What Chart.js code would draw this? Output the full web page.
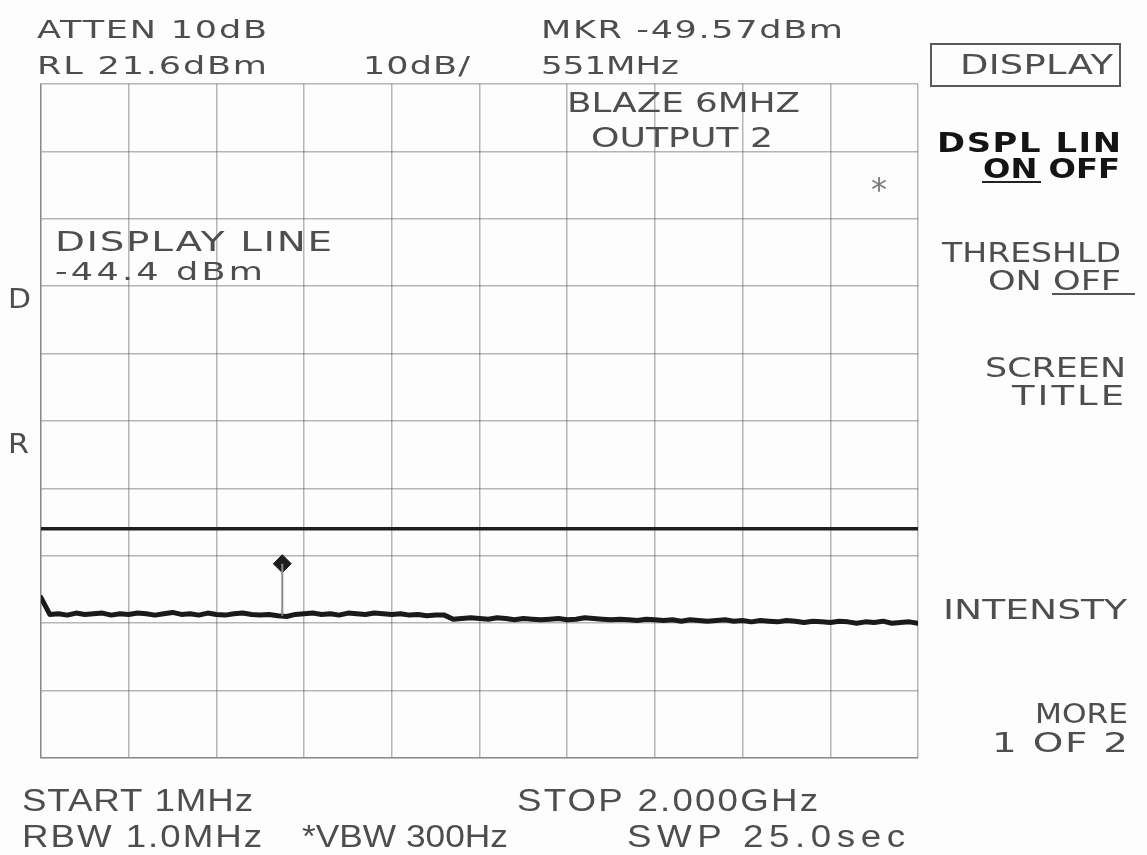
<!DOCTYPE html>
<html>
<head>
<meta charset="utf-8">
<title>Spectrum analyzer display</title>
<script src="https://cdn.jsdelivr.net/npm/chart.js@4.4.1/dist/chart.umd.min.js"></script>
<style>
  html, body { margin: 0; padding: 0; background: #fdfdfd; }
  #wrap { width: 1147px; height: 855px; position: relative; }
  canvas { display: block; }
</style>
</head>
<body>
<div id="wrap"><canvas id="sa" width="1147" height="855"></canvas></div>
<script>
// Sweep settings
const startMHz = 1;
const stopMHz = 2000;
const refLevelDbm = 21.6;
const dbPerDiv = 10;
const divisions = 10;

// Display line and marker
const displayLineDbm = -44.4;
const markerMHz = 551;
const markerDbm = -49.57;
const traceAtMarkerDbm = -57.3;

// Trace: 101 points evenly spread across the sweep (dBm)
const traceDbm = [
  -54.6, -57.1, -57.0, -57.2, -56.9, -57.1, -57.0, -56.9, -57.2, -57.0,
  -57.1, -56.9, -57.0, -57.2, -57.0, -56.8, -57.1, -57.0, -57.2, -56.9,
  -57.1, -57.2, -57.0, -56.9, -57.1, -57.2, -57.1, -57.3, -57.4, -57.1,
  -57.0, -56.9, -57.1, -57.0, -57.2, -56.9, -57.0, -57.1, -56.9, -57.0,
  -57.1, -57.0, -57.2, -57.1, -57.3, -57.2, -57.2, -57.8, -57.7, -57.6,
  -57.7, -57.8, -57.6, -57.7, -57.9, -57.7, -57.8, -57.9, -57.8, -57.7,
  -57.9, -57.8, -57.6, -57.7, -57.8, -57.9, -57.8, -57.9, -58.0, -57.8,
  -57.9, -58.0, -57.9, -58.1, -57.9, -58.0, -58.1, -58.0, -57.9, -58.1,
  -58.0, -58.2, -58.0, -58.1, -58.2, -58.0, -58.1, -58.3, -58.1, -58.2,
  -58.3, -58.1, -58.2, -58.4, -58.2, -58.3, -58.1, -58.4, -58.3, -58.2, -58.4
];

// Screen annotations: [text, left, right, baseline, capHeight, style]
const annotations = [
  ['ATTEN 10dB', 37, 267, 38, 18, 'n'],
  ['RL 21.6dBm', 37, 267, 74, 18, 'n'],
  ['10dB/', 363, 470, 74, 18, 'n'],
  ['MKR -49.57dBm', 541, 843, 38, 18, 'n'],
  ['551MHz', 541, 679, 74, 18, 'n'],
  ['BLAZE 6MHZ', 567, 800, 112, 20, 'n'],
  ['OUTPUT 2', 591, 773, 147, 20, 'n'],
  ['DISPLAY LINE', 55, 332, 251, 20, 'n'],
  ['-44.4 dBm', 55, 263, 280, 18, 'n'],
  ['D', 8, 31, 308, 19, 'n'],
  ['R', 8, 29, 453, 19, 'n'],
  ['DISPLAY', 960, 1113, 74, 19, 'n'],
  ['DSPL LIN', 937, 1121, 152, 19, 'b'],
  ['ON OFF', 983, 1120, 178, 19, 'b'],
  ['THRESHLD', 942, 1121, 262, 19, 'n'],
  ['ON OFF', 988, 1121, 290, 19, 'n'],
  ['SCREEN', 985, 1126, 377, 19, 'n'],
  ['TITLE', 1012, 1124, 405, 19, 'n'],
  ['INTENSTY', 943, 1127, 619, 20, 'n'],
  ['MORE', 1035, 1128, 723, 20, 'n'],
  ['1 OF 2', 992, 1128, 752, 20, 'n'],
  ['START 1MHz', 22, 253, 811, 22, 'c'],
  ['STOP 2.000GHz', 517, 818, 811, 22, 'c'],
  ['RBW 1.0MHz', 22, 262, 847, 22, 'c'],
  ['*VBW 300Hz', 302, 508, 847, 22, 'c'],
  ['SWP 25.0sec', 627, 905, 847, 22, 'c']
];

const traceMHz = traceDbm.map((_, i) => startMHz + i * (stopMHz - startMHz) / (traceDbm.length - 1));
const yMin = refLevelDbm - dbPerDiv * divisions;
const xTickValues = Array.from({length: divisions + 1}, (_, i) => startMHz + i * (stopMHz - startMHz) / divisions);
const yTickValues = Array.from({length: divisions + 1}, (_, i) => yMin + i * dbPerDiv);

const gridColor = 'rgba(80,80,80,0.42)';
const textColor = '#4e4e4e';

// Draws a string spread across [left, right] on a fixed baseline:
// glyphs widen up to maxStretch, the rest of the span becomes letter spacing.
function stretchText(ctx, str, left, right, baseline, cap, style) {
  let family = '"DejaVu Sans", sans-serif';
  let weight = 'normal';
  let color = textColor;
  let capRatio = 0.73;
  let maxStretch = 1.42;
  if (style === 'b') { weight = 'bold'; color = '#141414'; maxStretch = 1.3; }
  if (style === 'c') { family = '"Liberation Sans", sans-serif'; capRatio = 0.72; maxStretch = 1.2; }
  const size = cap / capRatio;
  const target = right - left;
  ctx.save();
  ctx.font = weight + ' ' + size.toFixed(1) + 'px ' + family;
  ctx.fillStyle = color;
  ctx.textBaseline = 'alphabetic';
  const w0 = ctx.measureText(str).width;
  let spacing = 0;
  if (target / w0 > maxStretch && 'letterSpacing' in ctx && str.length > 1) {
    spacing = (target / maxStretch - w0) / (str.length - 1);
    ctx.letterSpacing = spacing.toFixed(2) + 'px';
  }
  // trailing spacing is not part of the visible span
  const w = ctx.measureText(str).width - spacing;
  ctx.translate(left, baseline);
  ctx.scale(target / w, 1);
  ctx.fillText(str, 0, 0);
  ctx.restore();
}

const screenText = {
  id: 'screenText',
  afterDraw(chart) {
    const ctx = chart.ctx;
    annotations.forEach(a => stretchText(ctx, a[0], a[1], a[2], a[3], a[4], a[5]));
    ctx.save();
    // soft key title box
    ctx.strokeStyle = '#5a5a5a';
    ctx.lineWidth = 2;
    ctx.strokeRect(931, 44, 189, 42);
    // active selections underlined
    ctx.strokeStyle = '#222';
    ctx.lineWidth = 2;
    ctx.beginPath(); ctx.moveTo(982, 182); ctx.lineTo(1041, 182); ctx.stroke();
    ctx.strokeStyle = '#555';
    ctx.beginPath(); ctx.moveTo(1052, 294); ctx.lineTo(1135, 294); ctx.stroke();
    // asterisk flag
    ctx.fillStyle = '#7a7a7a';
    ctx.font = '32px "DejaVu Sans", sans-serif';
    ctx.textAlign = 'center';
    ctx.textBaseline = 'middle';
    ctx.fillText('*', 879, 192);
    ctx.restore();
  }
};

new Chart(document.getElementById('sa'), {
  type: 'line',
  data: {
    datasets: [
      {
        data: [{x: startMHz, y: displayLineDbm}, {x: stopMHz, y: displayLineDbm}],
        borderColor: '#1e1e1e', borderWidth: 3.5, pointRadius: 0
      },
      {
        data: [{x: markerMHz, y: markerDbm}, {x: markerMHz, y: traceAtMarkerDbm}],
        borderColor: '#8a8a8a', borderWidth: 2, pointRadius: 0
      },
      {
        data: traceMHz.map((f, i) => ({x: f, y: traceDbm[i]})),
        borderColor: '#1a1a1a', borderWidth: 5, pointRadius: 0, tension: 0,
        borderJoinStyle: 'round', borderCapStyle: 'round'
      },
      {
        data: [{x: markerMHz, y: markerDbm}],
        showLine: false, pointStyle: 'rectRot', pointRadius: 9,
        pointBackgroundColor: '#1e1e1e', pointBorderColor: '#1e1e1e'
      }
    ]
  },
  options: {
    responsive: false,
    devicePixelRatio: 1,
    animation: false,
    events: [],
    layout: { padding: { left: 41, top: 84, right: 229, bottom: 97 } },
    plugins: { legend: { display: false }, tooltip: { enabled: false } },
    scales: {
      x: {
        type: 'linear', min: startMHz, max: stopMHz,
        afterBuildTicks: s => { s.ticks = xTickValues.map(v => ({value: v})); },
        ticks: { display: false },
        grid: { color: gridColor, lineWidth: 1.5, drawTicks: false },
        border: { display: true, color: gridColor, width: 1.5 }
      },
      y: {
        type: 'linear', min: yMin, max: refLevelDbm,
        afterBuildTicks: s => { s.ticks = yTickValues.map(v => ({value: v})); },
        ticks: { display: false },
        grid: { color: gridColor, lineWidth: 1.5, drawTicks: false },
        border: { display: true, color: gridColor, width: 1.5 }
      }
    }
  },
  plugins: [screenText]
});
</script>
</body>
</html>
